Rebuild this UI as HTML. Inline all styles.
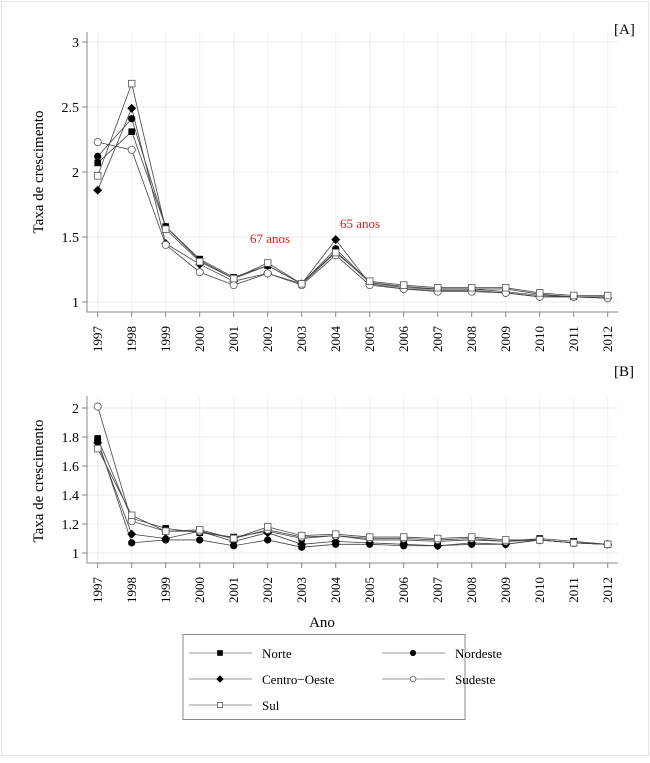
<!DOCTYPE html>
<html><head><meta charset="utf-8"><style>
body{margin:0;background:#fff;}
svg, svg text{font-family:"Liberation Serif","DejaVu Serif",serif;fill:#000;}
</style></head><body>
<svg width="650" height="758" xmlns="http://www.w3.org/2000/svg" font-family="Liberation Serif, DejaVu Serif, serif">
<rect x="1.5" y="1.5" width="647" height="754" fill="#fff" stroke="#e4e4e4"/>
<g id="panelA"></g>
<g id="panelB"></g>
<text x="614" y="34" font-size="15">[A]</text>
<text x="614" y="376" font-size="15">[B]</text>
<text transform="translate(43,172) rotate(-90)" text-anchor="middle" font-size="15">Taxa de crescimento</text>
<text transform="translate(43,481) rotate(-90)" text-anchor="middle" font-size="15">Taxa de crescimento</text>
<text x="322" y="627" text-anchor="middle" font-size="15">Ano</text>
<text x="250" y="243" font-size="13" style="fill:#d42020">67 anos</text>
<text x="340" y="228" font-size="13" style="fill:#d42020">65 anos</text>
<g id="legend"></g>
</svg>
<script>
const years=[1997,1998,1999,2000,2001,2002,2003,2004,2005,2006,2007,2008,2009,2010,2011,2012];
const seriesNames=["Norte","Nordeste","Centro-Oeste","Sudeste","Sul"];
const markers=["fsquare","fcircle","fdiamond","ocircle","osquare"];
const aNorte=[2.07,2.31,1.58,1.33,1.19,1.28,1.14,1.39,1.15,1.12,1.10,1.10,1.10,1.06,1.04,1.04];
const aNordeste=[2.12,2.41,1.58,1.32,1.18,1.28,1.14,1.41,1.15,1.11,1.10,1.10,1.08,1.05,1.04,1.03];
const aCentro=[1.86,2.49,1.45,1.29,1.16,1.22,1.14,1.48,1.14,1.10,1.09,1.09,1.07,1.04,1.04,1.03];
const aSudeste=[2.23,2.17,1.44,1.23,1.13,1.22,1.13,1.36,1.13,1.10,1.08,1.08,1.07,1.04,1.04,1.03];
const aSul=[1.97,2.68,1.56,1.31,1.18,1.30,1.14,1.38,1.16,1.13,1.11,1.11,1.11,1.07,1.05,1.05];
const bNorte=[1.79,1.24,1.17,1.14,1.11,1.15,1.10,1.12,1.09,1.09,1.08,1.09,1.08,1.10,1.08,1.06];
const bNordeste=[1.78,1.07,1.09,1.09,1.05,1.09,1.04,1.06,1.06,1.05,1.05,1.06,1.06,1.09,1.07,1.06];
const bCentro=[1.76,1.13,1.10,1.15,1.08,1.14,1.06,1.08,1.07,1.06,1.05,1.07,1.06,1.09,1.07,1.06];
const bSudeste=[2.01,1.22,1.15,1.15,1.10,1.16,1.11,1.12,1.10,1.10,1.09,1.10,1.08,1.09,1.07,1.06];
const bSul=[1.72,1.26,1.15,1.16,1.10,1.18,1.12,1.13,1.11,1.11,1.10,1.11,1.09,1.09,1.07,1.06];
const ticksA=[1,1.5,2,2.5,3];
const tickLabelsA=["1","1.5","2","2.5","3"];
const ticksB=[1,1.2,1.4,1.6,1.8,2];
const tickLabelsB=["1","1.2","1.4","1.6","1.8","2"];

const NS="http://www.w3.org/2000/svg";
function mk(tag,attrs,parent){const e=document.createElementNS(NS,tag);for(const k in attrs)e.setAttribute(k,attrs[k]);parent.appendChild(e);return e;}
const xs=i=>97.7+i*34;

function marker(g,type,x,y,s){
  let e;
  if(type==="fsquare"){e=mk("rect",{x:x-s,y:y-s,width:2*s,height:2*s,fill:"#000"},g);}
  else if(type==="osquare"){e=mk("rect",{x:x-s,y:y-s,width:2*s,height:2*s,fill:"#fff",stroke:"#555","stroke-width":0.8},g);}
  else if(type==="fcircle"){e=mk("circle",{cx:x,cy:y,r:s*1.1,fill:"#000"},g);}
  else if(type==="ocircle"){e=mk("circle",{cx:x,cy:y,r:s*1.1,fill:"#fff",stroke:"#555","stroke-width":0.8},g);}
  else {const d=s*1.35;e=mk("polygon",{points:`${x},${y-d} ${x+d},${y} ${x},${y+d} ${x-d},${y}`,fill:"#000"},g);}
  
  
}

function panel(gid,top,bottom,vmin,vmax,ticks,labels,series,tickY,yTop){
  const g=document.getElementById(gid);
  const y0=bottom-10, y1=yTop;
  const ys=v=>y0-(v-vmin)/(vmax-vmin)*(y0-y1);
  ticks.forEach((t,i)=>{
    const gl=mk("line",{x1:87,x2:618,y1:ys(t),y2:ys(t),stroke:"#eeeeee","stroke-width":1},g);
    
    
    const tk=mk("line",{x1:82,x2:87,y1:ys(t),y2:ys(t),stroke:"#888"},g);
    
    
    const tx=mk("text",{x:79,y:ys(t)+5,"text-anchor":"end","font-size":14},g);
    tx.textContent=labels[i];
    
    
  });
  years.forEach((yr,i)=>{
    const gl=mk("line",{x1:xs(i),x2:xs(i),y1:top,y2:bottom,stroke:"#f0f0f0"},g);
    
    
    const tk=mk("line",{x1:xs(i),x2:xs(i),y1:bottom,y2:bottom+5,stroke:"#888"},g);
    
    
    const tx=mk("text",{transform:`translate(${xs(i)+4.5},${tickY}) rotate(-90)`,"text-anchor":"middle","font-size":13},g);
    tx.textContent=yr;
    
    
  });
  const ax=mk("path",{d:`M87,${top} V${bottom} H618`,fill:"none",stroke:"#888","stroke-width":1},g);
  
  
  series.forEach((vals,si)=>{
    const pl=mk("polyline",{points:vals.map((v,i)=>xs(i)+","+ys(v)).join(" "),fill:"none",stroke:"#444","stroke-width":0.8},g);
    
    
  });
  series.forEach((vals,si)=>{vals.forEach((v,i)=>marker(g,markers[si],xs(i),ys(v),3.3));});
}
panel("panelA",32,312,1,3,ticksA,tickLabelsA,[aNorte,aNordeste,aCentro,aSudeste,aSul],339,42);
panel("panelB",396,563,1,2,ticksB,tickLabelsB,[bNorte,bNordeste,bCentro,bSudeste,bSul],590,408);

const lg=document.getElementById("legend");
const box=mk("rect",{x:183,y:634.5,width:282,height:85,fill:"#fff",stroke:"#888"},lg);


const pos=[[189,653],[382,653],[189,679],[382,679],[189,705]];
seriesNames.forEach((n,i)=>{
  const [x,y]=pos[i];
  const ge=mk("g",{},lg);
  
  
  mk("line",{x1:x,x2:x+63,y1:y,y2:y,stroke:"#999","stroke-width":1},ge);
  marker(ge,markers[i],x+31,y,i===3||i===4?2.6:2.8);
  const t=mk("text",{x:x+73,y:y+5,"font-size":13},ge);
  t.textContent=n.replace("-","\u2212");
});
</script>
</body></html>
